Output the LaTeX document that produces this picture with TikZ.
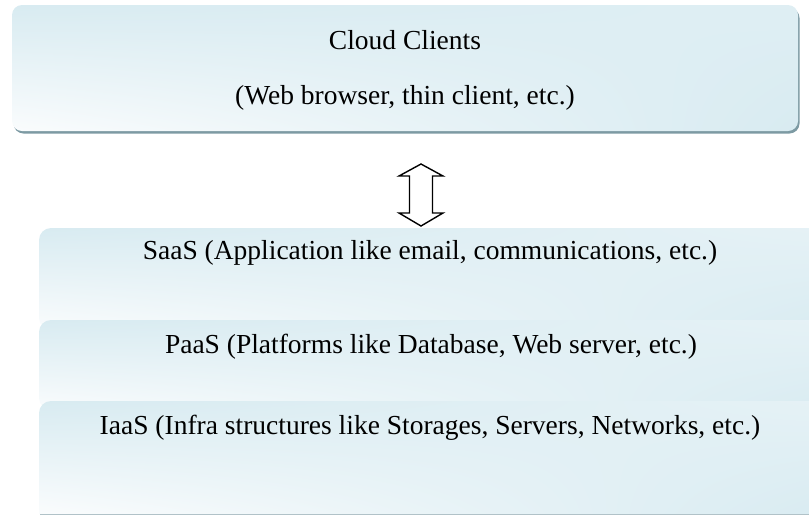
\documentclass[tikz,border=0pt]{standalone}
\usepackage{fontspec}
\setmainfont{Liberation Serif}
\usetikzlibrary{shadings}
\definecolor{lb}{RGB}{216,235,241}
\definecolor{lw}{RGB}{250,252,253}
\definecolor{shd}{RGB}{125,154,163}
\begin{document}
\begin{tikzpicture}[x=1pt,y=-1pt,
  txt/.style={font=\fontsize{27.5}{30}\selectfont, inner sep=0pt, anchor=center},
  layerbox/.style={upper left=lb, upper right=lw!40!lb, lower left=lw, lower right=lb},
  arrowline/.style={draw=black, line width=1.4pt, fill=white, line join=miter}]
\useasboundingbox (0,0) rectangle (809,515);
% top box with shadow
\fill[shd, rounded corners=10pt] (13.5,8) rectangle (799.5,133.5);
\shade[rounded corners=10pt, upper left=lb, upper right=lb!80!lw, lower left=lw, lower right=lb] (12,5) rectangle (798,131);
\node[txt] (cc) at (405,40) {Cloud Clients};
\node[txt] (wb) at (405,98) {(Web browser, thin client, etc.)};
% layers
\shade[rounded corners=12pt, layerbox] (39,228) -- (39,330) -- (840,330) -- (840,228) -- cycle;
\shade[rounded corners=12pt, layerbox] (39,320) -- (39,410) -- (840,410) -- (840,320) -- cycle;
\shade[layerbox] (39,514) [rounded corners=12pt] -- (39,401) -- (840,401) [sharp corners] -- (840,514) -- cycle;
\draw[shd!60, line width=0.6pt] (40,514) -- (809,514);
\node[txt] (saas) at (430,253) {SaaS (Application like email, communications, etc.)};
\node[txt] (paas) at (431,347) {PaaS (Platforms like Database, Web server, etc.)};
\node[txt] (iaas) at (430,428) {IaaS (Infra structures like Storages, Servers, Networks, etc.)};
% double arrow
\coordinate (atop) at (421,164);
\coordinate (abot) at (421,226);
\draw[arrowline] (atop) -- ++(22,12) -- ++(-10.5,0) -- (432.5,213) -- ++(10.5,0) -- (abot)
  -- (399,213) -- ++(10.5,0) -- (409.5,176) -- ++(-10.5,0) -- cycle;
\end{tikzpicture}
\end{document}
